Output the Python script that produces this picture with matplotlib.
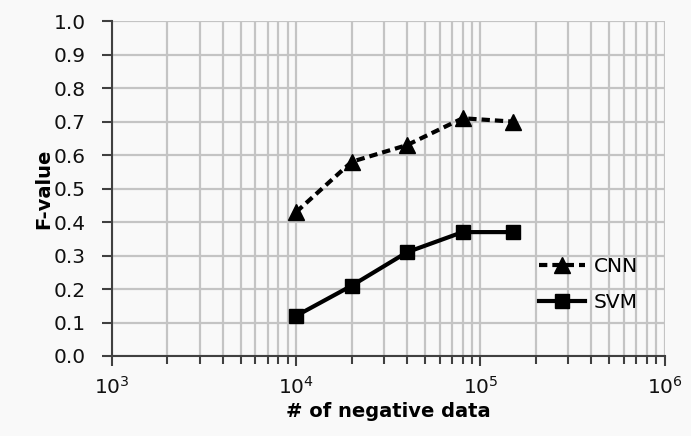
import matplotlib.pyplot as plt
from matplotlib.ticker import LogLocator, MultipleLocator, NullFormatter

# Data
neg_data = [10000, 20000, 40000, 80000, 150000]
cnn_f = [0.43, 0.58, 0.63, 0.71, 0.70]
svm_f = [0.12, 0.21, 0.31, 0.37, 0.37]

plt.rcParams['font.family'] = ['DejaVu Sans']

fig = plt.figure(figsize=(6.91, 4.36), dpi=100, facecolor='#f9f9f9')
ax = fig.add_axes([0.162, 0.1835, 0.800, 0.768])
ax.set_facecolor('#f9f9f9')

ax.plot(neg_data, cnn_f, linestyle=(0, (2.0, 1.2)), color='black', linewidth=3,
        marker='^', markersize=12, label='CNN')
ax.plot(neg_data, svm_f, linestyle='-', color='black', linewidth=3,
        marker='s', markersize=10, label='SVM')

ax.set_xscale('log')
ax.set_xlim(1e3, 1e6)
ax.set_ylim(0, 1.0)
ax.xaxis.set_major_locator(LogLocator(base=10, numticks=10))
ax.xaxis.set_minor_locator(LogLocator(base=10, subs=range(2, 10), numticks=20))
ax.xaxis.set_minor_formatter(NullFormatter())
ax.yaxis.set_major_locator(MultipleLocator(0.1))
ax.yaxis.set_major_formatter(plt.FormatStrFormatter('%.1f'))

ax.grid(True, which='both', axis='x', color='#c4c4c4', linewidth=1.6)
ax.grid(True, which='major', axis='y', color='#c4c4c4', linewidth=1.6)
ax.set_axisbelow(True)

for side in ['top', 'right']:
    ax.spines[side].set_visible(False)
for side in ['left', 'bottom']:
    ax.spines[side].set_color('#404040')
    ax.spines[side].set_linewidth(1.5)

ax.tick_params(axis='both', which='both', direction='out', color='#404040', width=1.5)
ax.tick_params(axis='both', which='major', length=7, labelsize=14.5, labelcolor='#111111')
ax.tick_params(axis='x', which='minor', length=6)
ax.tick_params(axis='x', which='major', pad=7)
ax.tick_params(axis='y', which='major', pad=12)

ax.set_xlabel('# of negative data', fontsize=14, fontweight='bold', labelpad=3)
ax.set_ylabel('F-value', fontsize=14, fontweight='bold', labelpad=0)

ax.legend(loc='upper left', bbox_to_anchor=(0.74, 0.35), frameon=False,
          fontsize=14.5, handlelength=2.3, handletextpad=0.4, labelspacing=0.85)

fig.savefig('out.png', dpi=100, facecolor=fig.get_facecolor())
